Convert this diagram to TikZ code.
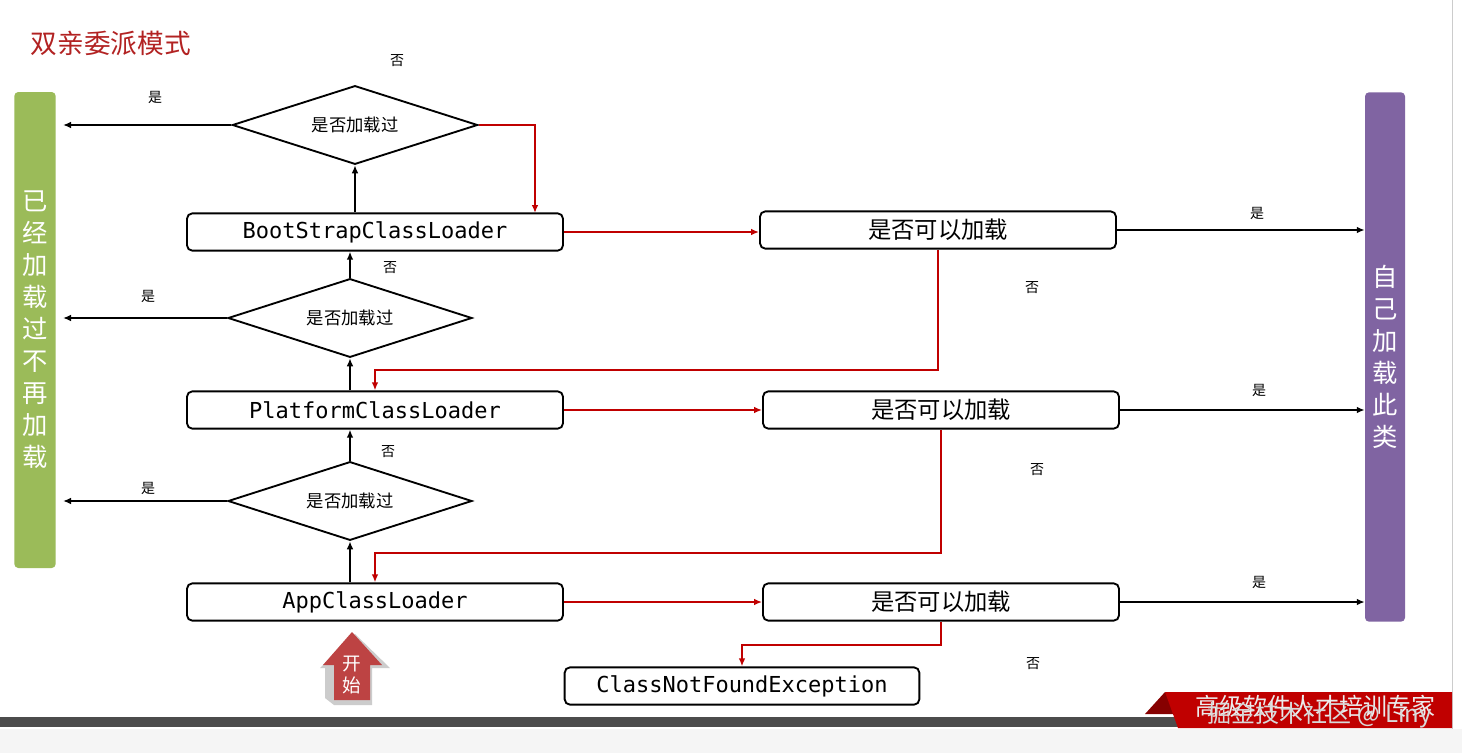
\documentclass[tikz,border=0pt]{standalone}
\usepackage{fontspec}
\setmainfont{Noto Sans CJK SC}
\newfontfamily\cjk{Noto Sans CJK SC}
\newfontfamily\mono{DejaVu Sans Mono}
\usetikzlibrary{shapes.geometric,shapes.arrows,arrows.meta}
\definecolor{dred}{HTML}{C00000}
\definecolor{tred}{HTML}{B22222}
\definecolor{bgreen}{HTML}{9BBB59}
\definecolor{bpurple}{HTML}{8064A2}
\begin{document}
\begin{tikzpicture}[x=0.75pt,y=-0.75pt,
  box/.style={draw,line width=1.4pt,rounded corners=4pt,minimum height=28pt,inner sep=0pt},
  lbox/.style={box,minimum width=282pt,font=\mono\fontsize{16.5}{16.5}\selectfont},
  rbox/.style={box,minimum width=267pt,font=\cjk\fontsize{17.5}{17.5}\selectfont},
  dia/.style={draw,line width=1.4pt,diamond,aspect=3.1,inner sep=0pt,font=\cjk\fontsize{13}{13}\selectfont},
  lab/.style={font=\cjk\fontsize{10.5}{10.5}\selectfont},
  blk/.style={line width=1.4pt,-{Latex[length=6pt,width=5pt]}},
  rd/.style={dred,line width=1.4pt,-{Latex[length=6pt,width=5pt]}},
  bar/.style={rounded corners=3pt,text=white,font=\cjk\fontsize{19}{24}\selectfont,align=center}]
\useasboundingbox (0,0) rectangle (1462,753);
\fill[white] (0,0) rectangle (1462,753);
\fill[gray!8] (0,729) rectangle (1462,753);
\draw[gray!40] (1452,0) -- (1452,729);
\node[anchor=west,text=tred,font=\cjk\fontsize{20}{20}\selectfont] (title) at (26,43) {双亲委派模式};
% bars
\node[bar,fill=bgreen,minimum width=31pt,minimum height=357pt] (left) at (35,330) {已\\经\\加\\载\\过\\不\\再\\加\\载};
\node[bar,fill=bpurple,minimum width=30pt,minimum height=397pt] (right) at (1385,357) {自\\己\\加\\载\\此\\类};
% diamonds
\node[dia,minimum width=184pt,minimum height=59pt] (d1) at (355,125) {是否加载过};
\node[dia,minimum width=183pt,minimum height=59pt] (d2) at (350,318) {是否加载过};
\node[dia,minimum width=183pt,minimum height=59pt] (d3) at (350,501) {是否加载过};
% boxes
\node[lbox] (b1) at (375,232) {BootStrapClassLoader};
\node[lbox] (b2) at (375,410) {PlatformClassLoader};
\node[lbox] (b3) at (375,602) {AppClassLoader};
\node[rbox] (r1) at (938,230) {是否可以加载};
\node[rbox] (r2) at (941,410) {是否可以加载};
\node[rbox] (r3) at (941,602) {是否可以加载};
\node[box,minimum width=266pt,font=\mono\fontsize{16.5}{16.5}\selectfont] (cnf) at (742,686) {ClassNotFoundException};
% left arrows
\coordinate (l1) at (63,125); \coordinate (l2) at (63,318); \coordinate (l3) at (63,501);
\draw[blk] (d1.west) -- (l1);
\draw[blk] (d2.west) -- (l2);
\draw[blk] (d3.west) -- (l3);
\node[lab] (y1) at (155,97) {是};
\node[lab] (y2) at (148,296) {是};
\node[lab] (y3) at (148,488) {是};
% up arrows
\draw[blk] (b1.north -| d1) -- (d1.south);
\draw[blk] (d2.north) -- (d2.north |- b1.south);
\draw[blk] (b2.north -| d2) -- (d2.south);
\draw[blk] (d3.north) -- (d3.north |- b2.south);
\draw[blk] (b3.north -| d3) -- (d3.south);
\node[lab] (n2) at (390,268) {否};
\node[lab] (n3) at (388,452) {否};
\node[lab] (n1) at (397,61) {否};
% red
\coordinate (bt) at (535,213);
\draw[rd] (d1.east) -| (bt);
\draw[rd] (b1.east) -- (b1.east -| r1.west);
\draw[rd] (b2.east) -- (r2.west);
\draw[rd] (b3.east) -- (r3.west);
\draw[rd] (r1.south) -- (938,370) -- (375,370) -- (b2.north);
\draw[rd] (r2.south) -- (941,553) -- (375,553) -- (b3.north);
\draw[rd] (r3.south) -- (941,645) -- (742,645) -- (cnf.north);
\node[lab] (n4) at (1032,288) {否};
\node[lab] (n5) at (1037,470) {否};
\node[lab] (n6) at (1033,664) {否};
% right arrows
\draw[blk] (r1.east) -- (r1.east -| right.west);
\draw[blk] (r2.east) -- (r2.east -| right.west);
\draw[blk] (r3.east) -- (r3.east -| right.west);
\node[lab] (y4) at (1257,213) {是};
\node[lab] (y5) at (1259,390) {是};
\node[lab] (y6) at (1259,582) {是};
% start arrow
\fill[gray!40] (325,698) -- (325,668) -- (320,668) -- (355,634) -- (390,668) -- (372,668) -- (372,705) -- (334,705) -- cycle;
\fill[tred!85] (334,700) -- (334,665) -- (323,665) -- (352,632) -- (382,665) -- (370,665) -- (370,700) -- cycle;
\node[text=white,font=\cjk\fontsize{14}{17}\selectfont,align=center] (start) at (352,675) {开\\始};
% footer
\fill[black!70] (0,717) rectangle (1240,727);
\fill[dred!70!black] (1145,714) -- (1165,692) -- (1180,714) -- cycle;
\fill[dred] (1165,692) -- (1452,692) -- (1452,728) -- (1178,728) -- cycle;
\node[text=white!85!gray,font=\cjk\fontsize{18}{18}\selectfont] (ban) at (1315,706) {高级软件人才培训专家};
\node[text=gray!30,font=\cjk\fontsize{18}{18}\selectfont] (wm) at (1320,715) {掘金技术社区 @ Liny};
\end{tikzpicture}
\end{document}
